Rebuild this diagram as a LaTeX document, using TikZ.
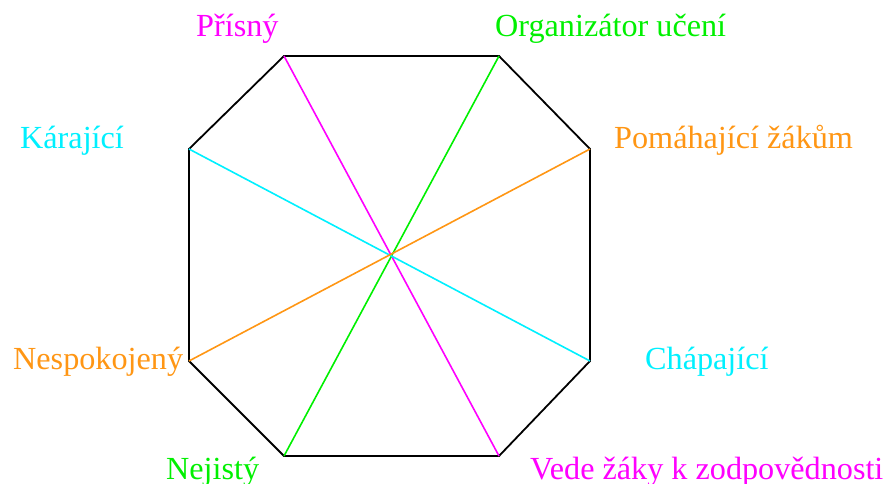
\documentclass[tikz,border=0pt]{standalone}
\usepackage{fontspec}
\setmainfont{Liberation Serif}
\definecolor{mymag}{RGB}{255,0,255}
\definecolor{mygreen}{RGB}{0,240,0}
\definecolor{mycyan}{RGB}{0,240,255}
\definecolor{myorange}{RGB}{255,150,20}
\begin{document}
\begin{tikzpicture}[x=1pt,y=-1pt,
  lbl/.style={anchor=base west,inner sep=0pt,font=\fontsize{32.2}{38}\selectfont},
  edge/.style={draw=black,line width=1.8pt,line join=miter},
  diag/.style={line width=1.6pt}]
\useasboundingbox (0,0) rectangle (885,483);
% octagon vertices
\coordinate (tl) at (284,56);
\coordinate (tr) at (499,56);
\coordinate (rt) at (590,149);
\coordinate (rb) at (590,361);
\coordinate (br) at (499,456);
\coordinate (bl) at (284,456);
\coordinate (lb) at (189,361);
\coordinate (lt) at (189,149);
\draw[edge] (tl) -- (tr) -- (rt) -- (rb) -- (br) -- (bl) -- (lb) -- (lt) -- cycle;
% diagonals
\draw[diag,mymag] (tl) -- (br);
\draw[diag,mygreen] (tr) -- (bl);
\draw[diag,mycyan] (lt) -- (rb);
\draw[diag,myorange] (rt) -- (lb);
% labels
\node[lbl,text=mymag] (prisny) at (196,36.5) {Přísný};
\node[lbl,text=mygreen] (organ) at (495,36.5) {Organizátor učení};
\node[lbl,text=mycyan] (karajici) at (20,148.5) {Kárající};
\node[lbl,text=myorange] (pomah) at (614,148.5) {Pomáhající žákům};
\node[lbl,text=myorange] (nespok) at (13,369) {Nespokojený};
\node[lbl,text=mycyan] (chapaj) at (645,369) {Chápající};
\node[lbl,text=mygreen] (nejisty) at (166,479) {Nejistý};
\node[lbl,text=mymag] (vede) at (530,479) {Vede žáky k zodpovědnosti};
\end{tikzpicture}
\end{document}
